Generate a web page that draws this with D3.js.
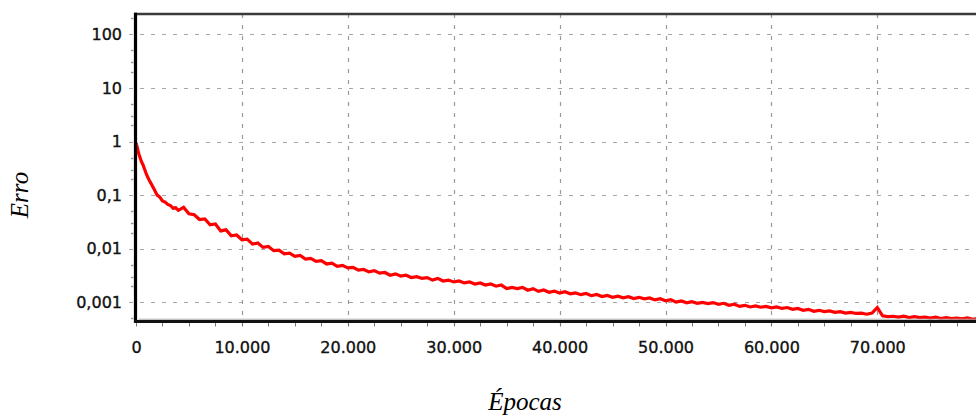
<!DOCTYPE html>
<html><head><meta charset="utf-8">
<script src="https://cdn.jsdelivr.net/npm/d3@7"></script>
<style>html,body{margin:0;padding:0;background:#fff;} svg{display:block}</style>
</head><body>
<svg id="chart" width="976" height="416"></svg>
<script>
// ---- data ----
const epochs = [
  0,100,200,300,500,700,1000,1250,1500,1750,2000,2250,2500,2750,3000,3250,3500,3750,
  4000,4500,5000,5500,6000,6500,7000,7500,8000,8500,
  9000,9500,10000,10500,11000,11500,12000,12500,13000,13500,
  14000,14500,15000,15500,16000,16500,17000,17500,18000,18500,
  19000,19500,20000,20500,21000,21500,22000,22500,23000,23500,
  24000,24500,25000,25500,26000,26500,27000,27500,28000,28500,
  29000,29500,30000,30500,31000,31500,32000,32500,33000,33500,
  34000,34500,35000,35500,36000,36500,37000,37500,38000,38500,
  39000,39500,40000,40500,41000,41500,42000,42500,43000,43500,
  44000,44500,45000,45500,46000,46500,47000,47500,48000,48500,
  49000,49500,50000,50500,51000,51500,52000,52500,53000,53500,
  54000,54500,55000,55500,56000,56500,57000,57500,58000,58500,
  59000,59500,60000,60500,61000,61500,62000,62500,63000,63500,
  64000,64500,65000,65500,66000,66500,67000,67500,68000,68500,
  69000,69500,70000,70500,71000,71500,72000,72500,73000,73500,
  74000,74500,75000,75500,76000,76500,77000,77500,78000,78500,
  79000,79500,80000
];
const erro = [
  0.94,0.80,0.66,0.56,0.43,0.35,0.24,0.19,0.155,0.125,0.100,0.092,0.078,0.074,0.067,0.064,0.057,0.058,
  0.052,0.059,0.045,0.043,0.035,0.036,0.028,0.029,0.0215,0.0225,
  0.0174,0.0180,0.0147,0.0151,0.0122,0.0128,0.0106,0.0110,0.0092,0.0094,
  0.0080,0.0083,0.0072,0.0075,0.0064,0.0066,0.0058,0.0060,0.0052,0.0054,
  0.0047,0.0049,0.0044,0.0045,0.0040,0.0041,0.0037,0.0039,0.0035,0.0036,
  0.0032,0.0034,0.0031,0.0032,0.0029,0.0030,0.0028,0.0029,0.0026,0.0028,
  0.0025,0.0026,0.0024,0.0025,0.0023,0.0024,0.0022,0.0023,0.0021,0.0022,
  0.0020,0.0021,0.0018,0.0019,0.0018,0.0019,0.00168,0.0018,0.00160,0.0017,
  0.00154,0.00162,0.00149,0.00158,0.00144,0.00150,0.00139,0.00146,0.00133,0.00140,
  0.00128,0.00134,0.00124,0.00130,0.00121,0.00127,0.00118,0.00124,0.00116,0.00121,
  0.00111,0.00117,0.00107,0.00112,0.00101,0.00106,0.00098,0.00103,0.00096,0.00100,
  0.00095,0.00099,0.00092,0.00096,0.00088,0.00092,0.00084,0.00088,0.00082,0.00086,
  0.00081,0.00084,0.00079,0.00082,0.00077,0.00080,0.00074,0.00077,0.00071,0.00074,
  0.00068,0.00071,0.00067,0.00069,0.00065,0.00067,0.00063,0.00065,0.00062,0.00063,
  0.00060,0.00063,0.00080,0.00056,0.00054,0.00055,0.00053,0.00055,0.00052,0.00054,
  0.00052,0.00053,0.00051,0.00053,0.00050,0.00052,0.00050,0.00051,0.00049,0.00051,
  0.00048,0.00050,0.00048
];
const yTickValues = [0.001, 0.01, 0.1, 1, 10, 100];
const yTickLabels = ["0,001", "0,01", "0,1", "1", "10", "100"];
const yMinorMult = [2, 3, 5];
const xTickValues = [0, 10000, 20000, 30000, 40000, 50000, 60000, 70000];
const xTickLabels = ["0", "10.000", "20.000", "30.000", "40.000", "50.000", "60.000", "70.000"];
const xMinorStep = 2500;
const xDomain = [0, 80000];
const yDomain = [0.000439, 239];

// ---- layout ----
const svg = d3.select("#chart");
const L = 136, R = 983.2, T = 14, B = 321.5;
const x = d3.scaleLinear().domain(xDomain).range([L, R]);
const y = d3.scaleLog().domain(yDomain).range([B, T]);
const tickFont = "'DejaVu Sans', Verdana, sans-serif";

svg.append("rect").attr("width", 976).attr("height", 416).attr("fill", "#fff");

// grid
const grid = svg.append("g");
grid.selectAll("line.h").data(yTickValues).join("line")
  .attr("x1", L - 7).attr("x2", 976)
  .attr("y1", d => Math.round(y(d)) + 0.5).attr("y2", d => Math.round(y(d)) + 0.5)
  .attr("stroke", "#a6a6a6").attr("stroke-width", 1.2).attr("stroke-dasharray", "4,7");
grid.selectAll("line.v").data(xTickValues.filter(d => d > 0)).join("line")
  .attr("x1", d => Math.round(x(d)) + 0.5).attr("x2", d => Math.round(x(d)) + 0.5)
  .attr("y1", T).attr("y2", B + 5)
  .attr("stroke", "#999").attr("stroke-width", 1.2).attr("stroke-dasharray", "4,7");

// minor y ticks
const yMinor = [];
yTickValues.concat([0.0001, 1000]).forEach(dec => yMinorMult.forEach(m => {
  const v = dec * m; if (v > yDomain[0] && v < yDomain[1]) yMinor.push(v);
}));
svg.append("g").selectAll("line").data(yMinor).join("line")
  .attr("x1", L - 5).attr("x2", L - 2.5)
  .attr("y1", d => Math.round(y(d)) + 0.5).attr("y2", d => Math.round(y(d)) + 0.5)
  .attr("stroke", "#999").attr("stroke-width", 1.5);

// minor x ticks
svg.append("g").selectAll("line").data(d3.range(xDomain[0], xDomain[1] + 1, xMinorStep)).join("line")
  .attr("x1", d => Math.round(x(d)) + 0.5).attr("x2", d => Math.round(x(d)) + 0.5)
  .attr("y1", B + 1.5).attr("y2", B + 5)
  .attr("stroke", "#777").attr("stroke-width", 1);

// curve
svg.append("clipPath").attr("id", "plotclip").append("rect")
  .attr("x", L).attr("y", T).attr("width", R - L).attr("height", B - T);
const data = epochs.map((e, i) => ({e, v: erro[i]}));
svg.append("path").datum(data)
  .attr("clip-path", "url(#plotclip)")
  .attr("fill", "none").attr("stroke", "#ff0000").attr("stroke-width", 3.2)
  .attr("stroke-linejoin", "miter")
  .attr("d", d3.line().x(d => x(d.e)).y(d => y(d.v)));

// frame
svg.append("line").attr("x1", L - 2).attr("x2", 976).attr("y1", T).attr("y2", T)
  .attr("stroke", "#3a3a3a").attr("stroke-width", 2.6);
svg.append("line").attr("x1", L + 2.5).attr("x2", 976).attr("y1", B - 2.3).attr("y2", B - 2.3)
  .attr("stroke", "#aaa").attr("stroke-width", 1);
svg.append("line").attr("x1", L - 0.5).attr("x2", L - 0.5).attr("y1", T - 1.3).attr("y2", B + 1.5)
  .attr("stroke", "#000").attr("stroke-width", 3.2);
svg.append("line").attr("x1", L - 2).attr("x2", 976).attr("y1", B).attr("y2", B)
  .attr("stroke", "#111").attr("stroke-width", 3.2);

// y axis labels
const yAxis = svg.append("g").attr("transform", `translate(${L},0)`)
  .call(d3.axisLeft(y).tickValues(yTickValues).tickFormat((d, i) => yTickLabels[i]).tickSize(0).tickPadding(14));
yAxis.select(".domain").remove();
yAxis.selectAll("text").attr("font-family", tickFont).attr("font-size", 16).attr("fill", "#111")
  .attr("stroke", "#111").attr("stroke-width", 0.35);

// x axis labels
const xAxis = svg.append("g").attr("transform", `translate(0,${B})`)
  .call(d3.axisBottom(x).tickValues(xTickValues).tickFormat((d, i) => xTickLabels[i]).tickSize(0));
xAxis.select(".domain").remove();
xAxis.selectAll("text").attr("font-family", tickFont).attr("font-size", 16).attr("fill", "#111")
  .attr("stroke", "#111").attr("stroke-width", 0.35)
  .attr("y", 26).attr("dy", "0.35em");

// titles
svg.append("text").attr("transform", "translate(28,195) rotate(-90)")
  .attr("text-anchor", "middle").attr("font-family", "'Liberation Serif', 'Times New Roman', serif")
  .attr("font-style", "italic").attr("font-size", 25).attr("fill", "#000").text("Erro");
svg.append("text").attr("x", 525).attr("y", 410)
  .attr("text-anchor", "middle").attr("font-family", "'Liberation Serif', 'Times New Roman', serif")
  .attr("font-style", "italic").attr("font-size", 25).attr("fill", "#000").text("Épocas");
</script>
</body></html>
